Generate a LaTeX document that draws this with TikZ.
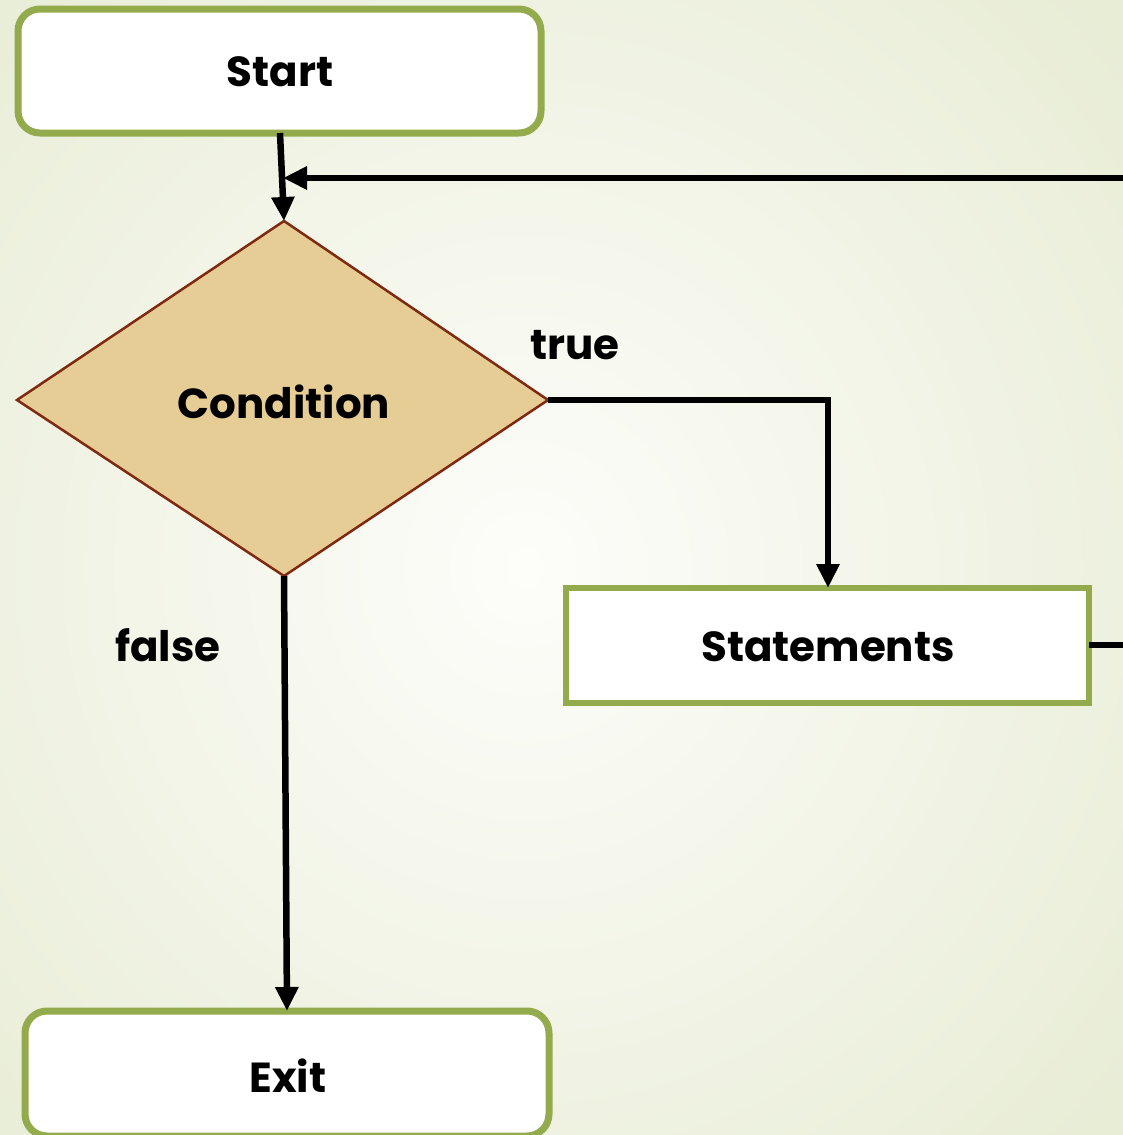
\documentclass[tikz,border=0pt]{standalone}
\usepackage{fontspec}
\setmainfont{Poppins}
\usetikzlibrary{arrows.meta,shapes.geometric}
\definecolor{boxgreen}{HTML}{93AB4D}
\definecolor{tan}{HTML}{E6CD95}
\definecolor{rust}{HTML}{7F2A10}
\definecolor{bgedge}{HTML}{E8EDD6}
\definecolor{bgmid}{HTML}{FDFDFA}
\tikzset{
  roundbox/.style={draw=boxgreen,line width=7pt,fill=white,rounded corners=22pt},
  squarebox/.style={draw=boxgreen,line width=6pt,fill=white},
  lbl/.style={font=\bfseries\fontsize{42}{50}\selectfont,text=black},
  conn/.style={line width=6.5pt,draw=black},
  tip/.style={-{Triangle[length=24pt,width=22pt]}}
}
\begin{document}
\begin{tikzpicture}[x=1pt,y=-1pt]
\useasboundingbox (0,0) rectangle (1122,1135);
\shade[inner color=bgmid,outer color=bgedge] (-250,-250) rectangle (1300,1385);
% nodes
\draw[roundbox] (18,9) rectangle (541,133);
\node[lbl] (start) at (280,72) {Start};
\coordinate (startb) at (280,133);
\fill[tan,draw=rust,line width=2.5pt] (284,221) -- (548,400) -- (284,576) -- (17,400) -- cycle;
\coordinate (ctop) at (284,221);
\coordinate (cright) at (548,400);
\coordinate (cbot) at (284,576);
\node[lbl] (cond) at (284,402) {Condition};
\draw[squarebox] (566,588) rectangle (1089,703);
\node[lbl] (stmt) at (828,647) {Statements};
\coordinate (stop) at (828,588);
\coordinate (sright) at (1089,645);
\draw[roundbox] (25,1011) rectangle (549,1136);
\node[lbl] (exit) at (288,1076) {Exit};
\coordinate (etop) at (287,1011);
\node[lbl] (true) at (575,345) {true};
\node[lbl] (false) at (168,645) {false};
% connectors
\coordinate (loopR) at (1130,178);
\coordinate (loopL) at (283,178);
\coordinate (outR) at (1130,645);
\draw[conn,tip] (startb) -- (ctop);
\draw[conn,tip] (loopR) -- (loopL);
\draw[conn,tip] (cright) -| (stop);
\draw[conn,tip] (cbot) -- (etop);
\draw[conn] (sright) -- (outR);
\end{tikzpicture}
\end{document}
